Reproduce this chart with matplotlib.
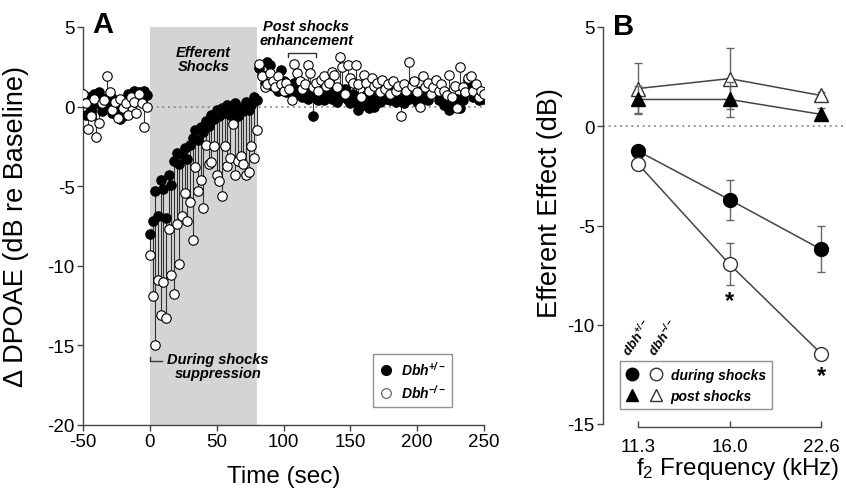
import numpy as np
import matplotlib
matplotlib.use("Agg")
import matplotlib.pyplot as plt
from matplotlib.lines import Line2D
from matplotlib.legend_handler import HandlerTuple

plt.rcParams['font.family'] = ['Liberation Sans', 'DejaVu Sans']
plt.rcParams['mathtext.fontset'] = 'custom'
plt.rcParams['mathtext.rm'] = 'Liberation Sans'
plt.rcParams['mathtext.it'] = 'Liberation Sans:italic'
plt.rcParams['mathtext.bf'] = 'Liberation Sans:italic:bold'
plt.rcParams['axes.unicode_minus'] = False

# ---------------- Panel A data (time series, 2 s steps) ----------------
time_start, time_stop, time_step = -50, 250, 2
het_base = [0.3, -0.5, 0.6, -0.2, 0.8, 0.2, 0.9, -0.3, 0.5, 0.1,
            0.7, -0.4, 0.4, -0.2, -0.8, -0.6, 0.3, 0.8, 0.5, 1.0,
            0.6, 0.9, 0.4, 1.0, 0.7]
het_shock = [-8.0, -7.2, -5.3, -6.9, -4.6, -5.2, -7.0, -4.3, -4.9, -3.4,
             -2.9, -3.6, -3.0, -2.6, -3.3, -2.4, -2.0, -1.5, -2.1, -1.3,
             -1.6, -0.9, -1.2, -0.5, -0.8, -0.2, -0.6, -0.1, -0.4, 0.1,
             -0.5, -0.2, 0.2, -0.6, -0.1, -0.3, 0.3, -0.2, 0.1, 0.6,
             0.4]
het_post = [2.4, 2.0, 1.5, 2.8, 2.6, 1.3, 1.8, 1.0, 2.3, 1.6,
            0.9, 1.2, 0.8, 1.5, 1.0, 0.7, 0.6, 1.1, 0.5, 0.9,
            -0.6, 0.8, 0.4, 1.0, 0.4, 0.7, 1.2, 0.5, 0.9, 0.3,
            0.8, 0.6, 1.1, 0.4, 0.2, 0.8, 0.3, -0.2, 0.5, 0.1,
            0.7, -0.1, 0.4, 0.0, 0.6, 0.3, 0.9, 0.5, 1.0, 0.4,
            0.8, 0.3, 1.1, 0.6, 0.2, 0.9, 0.5, 1.2, 0.7, 0.3,
            1.0, 0.5, 0.8, 0.4, 1.2, 1.5, 1.3, 0.4, 0.8, 0.1,
            0.6, -0.2, 0.3, 0.0, 0.5, -0.1, 0.4, 0.9, 1.7, 1.2,
            0.6, 1.0, 0.4, 0.7, 0.5]
ko_base = [0.8, 0.2, -1.4, -0.6, 0.5, -1.9, -1.0, 0.2, 0.4, 1.9,
           0.9, -0.2, 0.3, -0.7, 0.5, -0.1, 0.2, -0.5, 0.6, 0.3,
           -0.4, 0.8, 0.2, -1.3, 0.0]
ko_shock = [-9.3, -11.9, -15.0, -10.9, -13.1, -11.0, -13.3, -7.7, -10.6, -11.8,
            -7.4, -9.9, -6.9, -5.4, -7.2, -6.0, -8.4, -3.8, -5.3, -4.6,
            -6.4, -2.4, -3.6, -3.5, -2.5, -4.3, -4.7, -5.6, -2.5, -3.7,
            -3.2, -1.1, -4.3, -3.4, -3.1, -3.6, -4.3, -4.1, -2.5, -3.2,
            -1.5]
ko_post = [2.7, 1.9, 1.2, 1.4, 2.1, 1.6, 1.2, 1.9, 1.4, 1.0,
           1.5, 1.1, 0.4, 2.7, 2.1, 1.6, 1.1, 1.4, 2.6, 2.1,
           1.2, 1.5, 1.0, 1.7, 1.9, 1.3, 1.5, 2.2, 2.0, 1.2,
           3.1, 2.5, 0.8, 2.6, 1.8, 1.5, 2.6, 1.4, 0.6, 2.0,
           1.5, 1.0, 1.8, 1.3, 1.5, 0.9, 1.7, 1.1, 1.4, 0.8,
           1.6, 1.0, 1.3, -0.6, 1.4, 1.0, 2.8, 1.3, 1.6, 0.9,
           0.0, 1.9, 1.2, 1.5, 0.8, 1.2, 1.7, 1.0, 1.4, 1.0,
           0.7, 2.0, 0.6, 1.3, -0.1, 2.5, 1.2, 0.9, 1.8, 1.9,
           1.0, 1.4, 0.6, 1.0, 0.8]
shock_window = (0, 80)

# ---------------- Panel B data ----------------
freq_labels = ['11.3', '16.0', '22.6']
during_het = [-1.25, -3.7, -6.2]
during_het_err = [0.2, 1.0, 1.15]
during_ko = [-1.9, -6.95, -11.45]
during_ko_err = [0.2, 1.05, 0.2]
post_het = [1.35, 1.35, 0.6]
post_het_err = [0.7, 0.9, 0.3]
post_ko = [1.9, 2.4, 1.55]
post_ko_err = [1.3, 1.55, 0.2]
star_idx = [1, 2]
star_y = [-8.8, -12.55]

t = np.arange(time_start, time_stop + 1, time_step)
het = np.array(het_base + het_shock + het_post)
ko = np.array(ko_base + ko_shock + ko_post)
assert len(t) == len(het) == len(ko)

W, H = 846, 489
fig = plt.figure(figsize=(W / 100, H / 100), dpi=100)

def frac(x0, y0, x1, y1):
    return [x0 / W, 1 - y1 / H, (x1 - x0) / W, (y1 - y0) / H]

axc = '#444444'
tickfs = 13.5
xlabfs = 17.5
ylabfs = 19.5

# ================= Panel A =================
axA = fig.add_axes(frac(83, 28, 484, 426))
axA.axvspan(*shock_window, color='#d4d4d4', lw=0, zorder=0)
axA.axhline(0, color='#888888', ls=(0, (1.2, 2.2)), lw=1.2, zorder=1)
axA.vlines(t, het, ko, color='#333333', lw=0.8, zorder=2)
axA.plot(t, het, 'o', ms=6.8, mfc='black', mec='black', mew=0.8, zorder=3)
axA.plot(t, ko, 'o', ms=6.8, mfc='white', mec='black', mew=0.8, zorder=4)
axA.set_xlim(-50, 250)
axA.set_ylim(-20, 5)
axA.set_xticks(np.arange(-50, 251, 50))
axA.set_yticks(np.arange(-20, 6, 5))
for s in ['top', 'right']:
    axA.spines[s].set_visible(False)
for s in ['left', 'bottom']:
    axA.spines[s].set_color(axc)
    axA.spines[s].set_linewidth(1.0)
axA.tick_params(direction='out', length=4, width=1, color=axc, labelsize=tickfs, pad=2)
axA.set_xlabel('Time (sec)', fontsize=xlabfs)
axA.xaxis.set_label_coords(0.5, -0.1)
axA.set_ylabel('Δ DPOAE (dB re Baseline)', fontsize=ylabfs)
axA.yaxis.set_label_coords(-0.135, 0.5)

bi = dict(fontweight='bold', fontstyle='italic')
axA.text(40, 3.0, 'Efferent\nShocks', ha='center', va='center', fontsize=10.5,
         linespacing=1.0, **bi)
axA.text(117, 4.6, 'Post shocks\nenhancement', ha='center', va='center', fontsize=10.5,
         linespacing=1.0, **bi)
axA.plot([103, 103, 124, 124], [3.1, 3.35, 3.35, 3.1], color='#333333', lw=1)
axA.text(51, -16.3, 'During shocks\nsuppression', ha='center', va='center', fontsize=10.5,
         linespacing=1.0, **bi)
axA.plot([0, 0, 9], [-15.75, -16.0, -16.0], color='#333333', lw=1)
fig.text(92 / W, 1 - 25 / H, 'A', fontsize=21, fontweight='bold', ha='left', va='center')

hA = [Line2D([], [], ls='none', marker='o', ms=7, mfc='black', mec='black'),
      Line2D([], [], ls='none', marker='o', ms=7, mfc='white', mec='#555555', mew=0.8)]
legA = axA.legend(hA, [r'$\mathbf{Dbh^{+/-}}$', r'$\mathbf{Dbh^{-/-}}$'],
                  loc='lower left', bbox_to_anchor=(0.722, 0.045), borderaxespad=0,
                  fontsize=10, frameon=True, fancybox=False, edgecolor='#777777',
                  handlelength=1.0, handletextpad=0.6, borderpad=0.45, labelspacing=0.35)
legA.get_frame().set_linewidth(1.0)

# ================= Panel B =================
axB = fig.add_axes(frac(603, 28, 846, 425))
xB = np.arange(len(freq_labels))
axB.axhline(0, color='#888888', ls=(0, (1.2, 2.2)), lw=1.2, zorder=1)
lc = '#444444'
axB.errorbar(xB, during_het, yerr=during_het_err, fmt='-o', color=lc, lw=1.1,
             ms=10, mfc='black', mec='black', ecolor='#666666', elinewidth=1,
             capsize=3, zorder=3)
axB.errorbar(xB, during_ko, yerr=during_ko_err, fmt='-o', color=lc, lw=1.1,
             ms=10, mfc='white', mec='#333333', mew=1, ecolor='#666666',
             elinewidth=1, capsize=3, zorder=3)
axB.errorbar(xB, post_het, yerr=post_het_err, fmt='-^', color=lc, lw=1.1,
             ms=10, mfc='black', mec='black', ecolor='#666666', elinewidth=1,
             capsize=3, zorder=3)
axB.errorbar(xB, post_ko, yerr=post_ko_err, fmt='-^', color=lc, lw=1.1,
             ms=10, mfc='white', mec='#333333', mew=1, ecolor='#666666',
             elinewidth=1, capsize=3, zorder=2)
for i, y in zip(star_idx, star_y):
    axB.text(xB[i], y, '*', ha='center', va='center', fontsize=17, fontweight='bold')

axB.set_xlim(-0.383, 2.273)
axB.set_ylim(-15, 5)
axB.set_xticks(xB)
axB.set_xticklabels(freq_labels)
axB.set_yticks([-15, -10, -5, 0, 5])
for s in ['top', 'right']:
    axB.spines[s].set_visible(False)
for s in ['left', 'bottom']:
    axB.spines[s].set_color(axc)
    axB.spines[s].set_linewidth(1.0)
axB.spines['bottom'].set_position(('outward', 2))
axB.spines['bottom'].set_bounds(0, 2)
axB.tick_params(axis='y', direction='out', length=4, width=1, color=axc,
                labelsize=tickfs, pad=2)
axB.tick_params(axis='x', direction='in', length=4, width=1, color=axc,
                labelsize=tickfs, pad=8)
axB.set_ylabel('Efferent Effect (dB)', fontsize=ylabfs)
axB.yaxis.set_label_coords(-0.165, 0.56)
axB.set_xlabel(r'f$_2$ Frequency (kHz)', fontsize=xlabfs)
axB.xaxis.set_label_coords(0.556, -0.078)
fig.text(613 / W, 1 - 27 / H, 'B', fontsize=21, fontweight='bold', ha='left', va='center')

hB = [(Line2D([], [], ls='none', marker='o', ms=9, mfc='black', mec='black'),
       Line2D([], [], ls='none', marker='o', ms=9, mfc='white', mec='#333333')),
      (Line2D([], [], ls='none', marker='^', ms=8, mfc='black', mec='black'),
       Line2D([], [], ls='none', marker='^', ms=8, mfc='white', mec='#333333'))]
legB = axB.legend(hB, ['during shocks', 'post shocks'],
                  handler_map={tuple: HandlerTuple(ndivide=None, pad=0.9)},
                  loc='lower left', bbox_to_anchor=(0.07, 0.038), borderaxespad=0,
                  prop=dict(family='Liberation Sans', weight='bold', style='italic', size=10),
                  frameon=True, fancybox=False, edgecolor='#777777',
                  handlelength=2.6, handletextpad=0.6, borderpad=0.45, labelspacing=0.5)
legB.get_frame().set_linewidth(1.0)
fig.text(637 / W, 1 - 338 / H, r'$\mathbf{dbh^{+/-}}$', rotation=55, fontsize=9.5,
         ha='center', va='center')
fig.text(663 / W, 1 - 338 / H, r'$\mathbf{dbh^{-/-}}$', rotation=55, fontsize=9.5,
         ha='center', va='center')

fig.savefig('out.png', dpi=100)
